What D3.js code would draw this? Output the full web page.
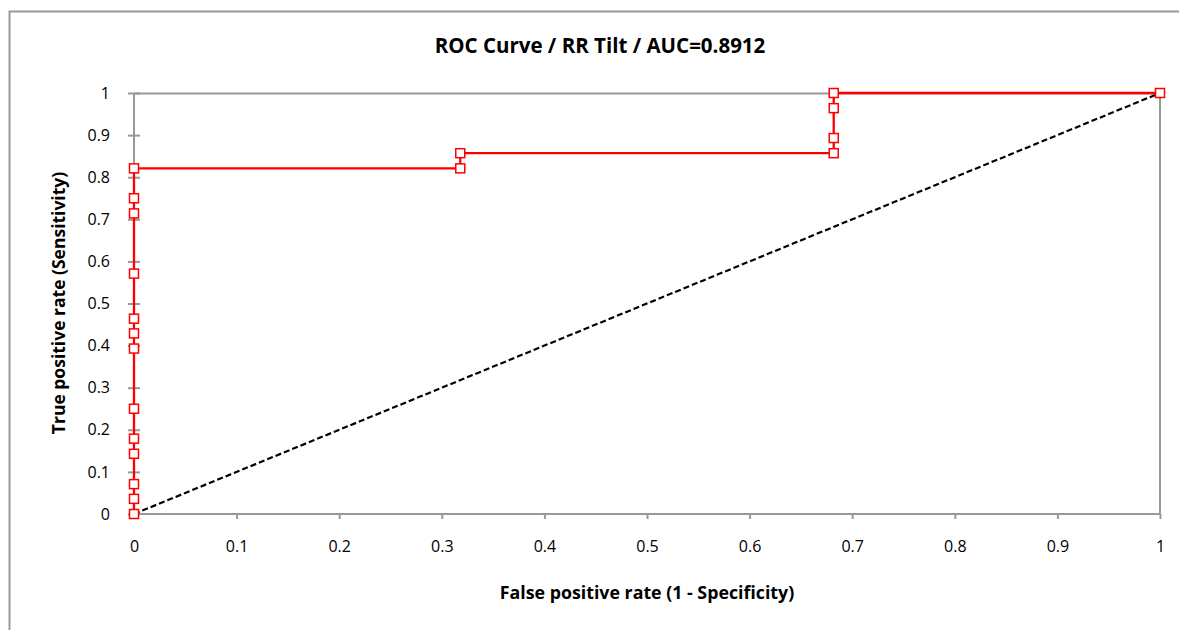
<!DOCTYPE html>
<html><head><meta charset="utf-8">
<script src="https://cdn.jsdelivr.net/npm/d3@7"></script>
<style>body{margin:0;background:#fff;} svg{display:block;}</style>
</head><body>
<svg id="chart" width="1179" height="630"></svg>
<script>
const title = "ROC Curve / RR Tilt / AUC=0.8912";
const xTitle = "False positive rate (1 - Specificity)";
const yTitle = "True positive rate (Sensitivity)";
// ROC points (FPR, TPR)
const fpr = [0,0,0,0,0,0,0,0,0,0,0,0,0,0.318,0.318,0.682,0.682,0.682,0.682,1];
const tpr = [0,0.036,0.071,0.143,0.179,0.25,0.393,0.429,0.464,0.571,0.714,0.75,0.821,0.821,0.857,0.857,0.893,0.964,1,1];
const diagX = [0,1];
const diagY = [0,1];
const xTicks = [0,0.1,0.2,0.3,0.4,0.5,0.6,0.7,0.8,0.9,1];
const yTicks = [0,0.1,0.2,0.3,0.4,0.5,0.6,0.7,0.8,0.9,1];

const svg = d3.select("#chart");
const font = "'Open Sans', sans-serif";
const L = 134, R = 1160, T = 93, B = 514;
const x = d3.scaleLinear().domain([0,1]).range([L,R]);
const y = d3.scaleLinear().domain([0,1]).range([B,T]);

// outer border
svg.append("rect").attr("x",9.5).attr("y",11.5).attr("width",1200).attr("height",700)
  .attr("fill","none").attr("stroke","#999").attr("stroke-width",2);

// plot frame
svg.append("line").attr("x1",L).attr("x2",R).attr("y1",T+0.5).attr("y2",T+0.5).attr("stroke","#999").attr("stroke-width",2);
svg.append("line").attr("x1",R).attr("x2",R).attr("y1",T).attr("y2",B).attr("stroke","#999").attr("stroke-width",2);

// axes
const xAxis = d3.axisBottom(x).tickValues(xTicks).tickSize(5).tickPadding(22)
  .tickFormat(d => d3.format("")(+d.toFixed(1)));
const gx = svg.append("g").attr("transform",`translate(0,${B})`).call(xAxis);
gx.select(".domain").attr("stroke","#999").attr("stroke-width",2).attr("d",`M${L},0H${R}`);
gx.selectAll(".tick line").attr("stroke","#999").attr("stroke-width",2);
gx.selectAll(".tick text").attr("font-family",font).attr("font-size",16).attr("fill","#000");

const yAxis = d3.axisLeft(y).tickValues(yTicks).tickSize(6).tickPadding(18)
  .tickFormat(d => d3.format("")(+d.toFixed(1)));
const gy = svg.append("g").attr("transform",`translate(${L},0)`).call(yAxis);
gy.select(".domain").attr("stroke","#999").attr("stroke-width",2).attr("d",`M0,${T}V${B}`);
gy.selectAll(".tick line").attr("stroke","#999").attr("stroke-width",2).attr("x1",6).attr("x2",-6);
gy.selectAll(".tick text").attr("font-family",font).attr("font-size",16).attr("fill","#000");

// diagonal
svg.append("path").datum(diagX.map((d,i)=>[d,diagY[i]]))
  .attr("d", d3.line().x(d=>x(d[0])).y(d=>y(d[1])))
  .attr("fill","none").attr("stroke","#000").attr("stroke-width",2.2).attr("stroke-dasharray","6,3");

// ROC curve
const pts = fpr.map((d,i)=>[d,tpr[i]]);
svg.append("path").datum(pts)
  .attr("d", d3.line().x(d=>x(d[0])).y(d=>y(d[1])))
  .attr("fill","none").attr("stroke","#f00").attr("stroke-width",2.3);
svg.selectAll("rect.m").data(pts).enter().append("rect").attr("class","m")
  .attr("x",d=>x(d[0])-4.5).attr("y",d=>y(d[1])-4.5).attr("width",9).attr("height",9)
  .attr("fill","#fff").attr("stroke","#f00").attr("stroke-width",1.5);

// titles
svg.append("text").attr("x",600).attr("y",53).attr("text-anchor","middle")
  .attr("font-family",font).attr("font-weight","bold").attr("font-size",20.5).text(title);
svg.append("text").attr("x",647).attr("y",599).attr("text-anchor","middle")
  .attr("font-family",font).attr("font-weight","bold").attr("font-size",17.8).text(xTitle);
svg.append("text").attr("transform","translate(65,303) rotate(-90)").attr("text-anchor","middle")
  .attr("font-family",font).attr("font-weight","bold").attr("font-size",17.5).text(yTitle);
</script>
</body></html>
